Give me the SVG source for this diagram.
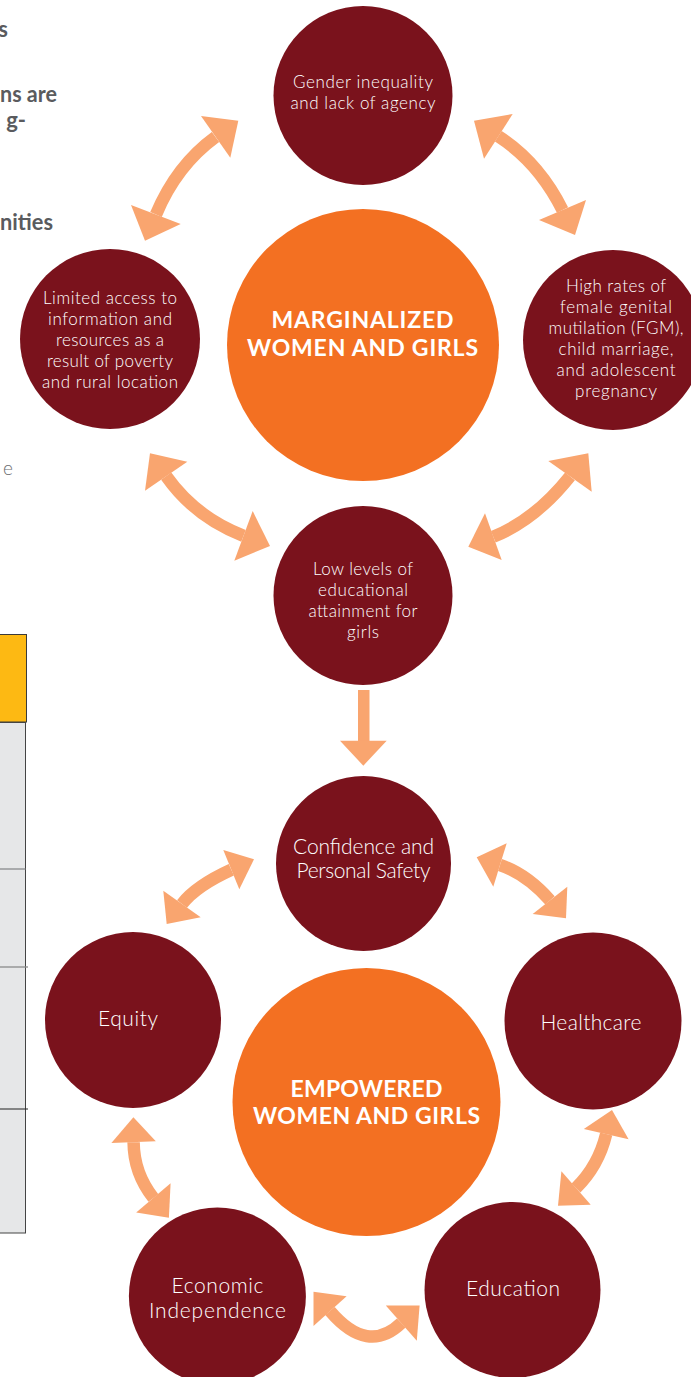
<svg xmlns="http://www.w3.org/2000/svg" width="691" height="1377" viewBox="0 0 691 1377">
<style>
.node{fill:#7a121c}
.hub{fill:#f37022}
.t{font-family:Lato,"Liberation Sans",sans-serif;fill:#ffffff;text-anchor:middle;font-weight:300}
.s{font-size:17px}
.m{font-size:21px}
.b{font-size:23px;font-weight:700}
.shaft{fill:none;stroke:#f9a56f;stroke-width:12.5}
.head{fill:#f9a56f}
.side{font-family:Lato,"Liberation Sans",sans-serif;font-weight:700;font-size:22px;fill:#5a5b5e;text-anchor:end}
</style>
<rect x="0" y="0" width="691" height="1377" fill="#ffffff"/>

<g id="page-fragment">
  <text class="side" x="8" y="37">s</text>
  <text class="side" x="57" y="102" textLength="57" lengthAdjust="spacingAndGlyphs">ns are</text>
  <text class="side" x="26" y="128">g-</text>
  <text class="side" x="53" y="230" textLength="53" lengthAdjust="spacingAndGlyphs">nities</text>
  <text x="13" y="475" font-family="Lato,'Liberation Sans',sans-serif" font-size="19" font-weight="300" fill="#6d6e71" text-anchor="end">e</text>
  <rect x="-1" y="634.5" width="27.5" height="87.5" fill="#fdb913" stroke="#3a3a3a" stroke-width="1"/>
  <rect x="-1" y="722.5" width="26.5" height="510.5" fill="#e6e7e8" stroke="#444444" stroke-width="1"/>
  <line x1="0" y1="869" x2="26" y2="869" stroke="#6d6e71" stroke-width="1"/>
  <line x1="0" y1="967" x2="28" y2="967" stroke="#8a8a8a" stroke-width="1.3"/>
  <line x1="0" y1="1109" x2="28" y2="1109" stroke="#222222" stroke-width="1"/>
</g>

<g id="connectors">
  <path class="shaft" d="M215.5,137 Q176.4,165.5 156,214.5"/>
  <polygon class="head" points="238.3,120.7 201,116 230.3,157.7"/>
  <polygon class="head" points="145,240.7 131,205 180.7,224"/>

  <path class="shaft" d="M498.3,136.3 Q538.6,162.2 562.5,210"/>
  <polygon class="head" points="474,120.7 512.7,114 484,158.7"/>
  <polygon class="head" points="575,235 586,200 539,220"/>

  <path class="shaft" d="M166.2,476.2 Q195.2,517.2 243.5,535.8"/>
  <polygon class="head" points="150,453.3 187.3,461.7 145,490.7"/>
  <polygon class="head" points="270,546 252.7,511 234.3,560.7"/>

  <path class="shaft" d="M570,476.3 Q535.3,519.9 493.3,536.7"/>
  <polygon class="head" points="588.3,453.3 548.3,461 591.7,491.7"/>
  <polygon class="head" points="468.3,546.7 485,513.3 501.7,560"/>

  <rect class="head" x="358" y="690" width="11.5" height="52"/>
  <polygon class="head" points="340,740.7 386.7,740.7 363.3,765.7"/>

  <path class="shaft" d="M231.3,869.7 Q195.9,885.9 182,904"/>
  <polygon class="head" points="254,859.3 223.3,850 239.3,889.3"/>
  <polygon class="head" points="166.7,924 163.3,890.7 200.7,917.3"/>

  <path class="shaft" d="M500,865 Q526.4,873.7 550,900.3"/>
  <polygon class="head" points="476.7,857.3 506.7,843.3 493.3,886.7"/>
  <polygon class="head" points="566,918.3 567.3,886.7 532.7,914"/>

  <path class="shaft" d="M133.6,1142.2 Q133.8,1173 153.4,1198"/>
  <polygon class="head" points="133.4,1117.2 111.4,1143 155.8,1141.3"/>
  <polygon class="head" points="168.9,1217.7 136.2,1212.6 170.6,1183.3"/>

  <path class="shaft" d="M330,1311 Q367.8,1355.2 401.3,1323.1"/>
  <polygon class="head" points="313.5,1291.8 346.6,1296.3 313.5,1325.9"/>
  <polygon class="head" points="419.6,1305.5 385.8,1305.5 416.8,1340.7"/>

  <path class="shaft" d="M606.2,1134 Q598.5,1165.9 576,1188"/>
  <polygon class="head" points="612,1110 583.8,1128.9 628.6,1139.2"/>
  <polygon class="head" points="558,1205.7 561.4,1171.3 590.7,1204.7"/>
</g>

<g id="gender-inequality">
  <circle class="node" cx="363" cy="95.5" r="89.5"/>
  <text class="t s" x="363" y="88" textLength="140" lengthAdjust="spacing">Gender inequality</text>
  <text class="t s" x="363" y="109" textLength="145" lengthAdjust="spacing">and lack of agency</text>
</g>

<g id="limited-access">
  <circle class="node" cx="110" cy="339" r="90"/>
  <text class="t s" x="110" y="304" textLength="134" lengthAdjust="spacing">Limited access to</text>
  <text class="t s" x="110" y="325" textLength="124" lengthAdjust="spacing">information and</text>
  <text class="t s" x="110" y="346" textLength="108" lengthAdjust="spacing">resources as a</text>
  <text class="t s" x="110" y="367" textLength="126" lengthAdjust="spacing">result of poverty</text>
  <text class="t s" x="110" y="388" textLength="136" lengthAdjust="spacing">and rural location</text>
</g>

<g id="high-rates">
  <circle class="node" cx="613" cy="340" r="90"/>
  <text class="t s" x="616" y="292" textLength="100" lengthAdjust="spacing">High rates of</text>
  <text class="t s" x="616" y="313" textLength="112" lengthAdjust="spacing">female genital</text>
  <text class="t s" x="616" y="334" textLength="135" lengthAdjust="spacing">mutilation (FGM),</text>
  <text class="t s" x="616" y="355" textLength="115" lengthAdjust="spacing">child marriage,</text>
  <text class="t s" x="616" y="376" textLength="119" lengthAdjust="spacing">and adolescent</text>
  <text class="t s" x="616" y="397" textLength="82" lengthAdjust="spacing">pregnancy</text>
</g>

<g id="marginalized">
  <circle class="hub" cx="363" cy="345" r="136"/>
  <text class="t b" x="362.5" y="328" textLength="182" lengthAdjust="spacing">MARGINALIZED</text>
  <text class="t b" x="362.5" y="356" textLength="231" lengthAdjust="spacing">WOMEN AND GIRLS</text>
</g>

<g id="low-education">
  <circle class="node" cx="363" cy="595.5" r="89.5"/>
  <text class="t s" x="363" y="575" textLength="100" lengthAdjust="spacing">Low levels of</text>
  <text class="t s" x="363" y="596" textLength="90" lengthAdjust="spacing">educational</text>
  <text class="t s" x="363" y="617" textLength="109" lengthAdjust="spacing">attainment for</text>
  <text class="t s" x="363" y="638" textLength="32" lengthAdjust="spacing">girls</text>
</g>

<g id="confidence">
  <circle class="node" cx="363.5" cy="863.5" r="87.5"/>
  <text class="t m" x="363.5" y="854" textLength="141" lengthAdjust="spacing">Confidence and</text>
  <text class="t m" x="363.5" y="878" textLength="134" lengthAdjust="spacing">Personal Safety</text>
</g>

<g id="equity">
  <circle class="node" cx="133" cy="1020" r="88"/>
  <text class="t m" x="128" y="1026" textLength="60" lengthAdjust="spacing">Equity</text>
</g>

<g id="healthcare">
  <circle class="node" cx="593" cy="1021" r="88.5"/>
  <text class="t m" x="591" y="1030" textLength="101" lengthAdjust="spacing">Healthcare</text>
</g>

<g id="empowered">
  <circle class="hub" cx="366.5" cy="1102" r="134"/>
  <text class="t b" x="366.5" y="1097" textLength="152" lengthAdjust="spacing">EMPOWERED</text>
  <text class="t b" x="366.5" y="1124" textLength="227" lengthAdjust="spacing">WOMEN AND GIRLS</text>
</g>

<g id="economic">
  <circle class="node" cx="217.4" cy="1296" r="88.5"/>
  <text class="t m" x="217.5" y="1293" textLength="92" lengthAdjust="spacing">Economic</text>
  <text class="t m" x="217.5" y="1318" textLength="137" lengthAdjust="spacing">Independence</text>
</g>

<g id="education">
  <circle class="node" cx="512.5" cy="1290" r="88"/>
  <text class="t m" x="513" y="1296" textLength="94" lengthAdjust="spacing">Education</text>
</g>
</svg>
